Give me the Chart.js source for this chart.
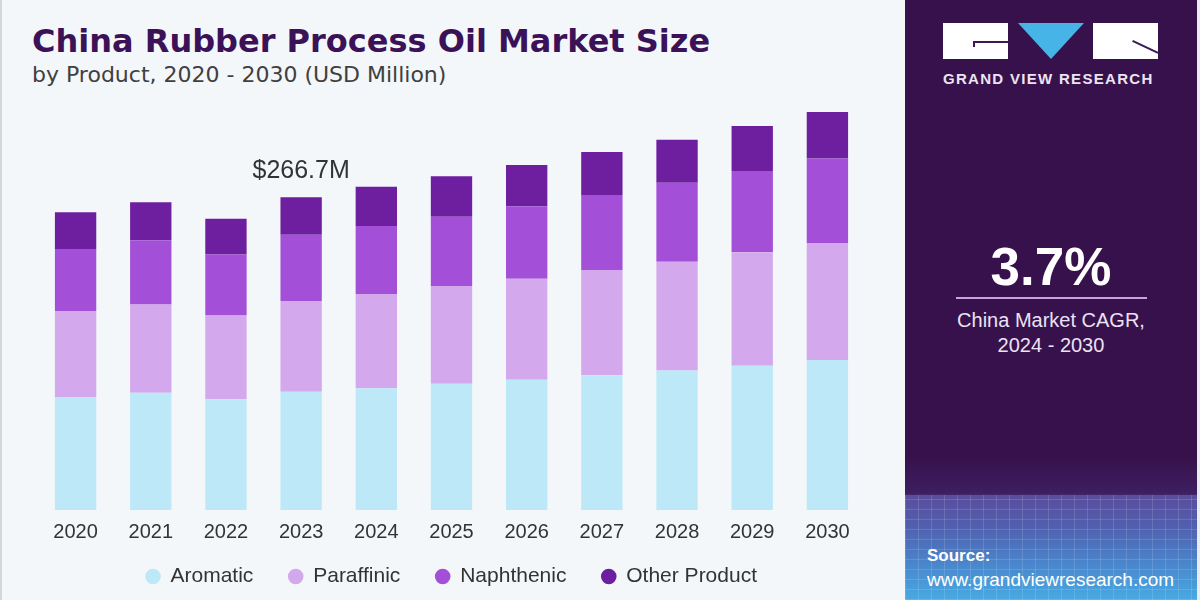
<!DOCTYPE html>
<html>
<head>
<meta charset="utf-8">
<script src="https://cdn.jsdelivr.net/npm/chart.js@4.4.1/dist/chart.umd.min.js"></script>
<style>
	html, body { margin: 0; padding: 0; }
	body {
		width: 1200px;
		height: 600px;
		position: relative;
		overflow: hidden;
		background: #f3f7fa;
		font-family: 'Liberation Sans', Arial, sans-serif;
	}
	.left-edge { position: absolute; left: 0; top: 0; width: 2px; height: 600px; background: #d3d7db; }
	.title {
		position: absolute; left: 32px; top: 22px;
		font: bold 32px 'DejaVu Sans', sans-serif;
		color: #3b1158; white-space: nowrap;
	}
	.subtitle {
		position: absolute; left: 32px; top: 62px;
		font: 22px 'DejaVu Sans', sans-serif;
		color: #404040; white-space: nowrap;
	}
	#chartBox { position: absolute; left: 0; top: 0; width: 905px; height: 600px; }

	.panel {
		position: absolute; left: 905px; top: 0; width: 292px; height: 600px;
		background: linear-gradient(180deg, #37114b 0%, #37114b 76%, #3e1f62 82.4%, #5b4c9c 82.5%, #5061b0 88%, #4a86cc 94%, #47aae2 100%);
	}
	.grid {
		position: absolute; left: 0; top: 495px; width: 292px; height: 105px;
		background:
			repeating-linear-gradient(90deg, rgba(255,255,255,0.13) 0 1px, transparent 1px 13px),
			repeating-linear-gradient(0deg, rgba(255,255,255,0.13) 0 1px, transparent 1px 10px);
	}
	.logo-box { position: absolute; top: 23px; height: 36px; background: #fff; }
	.logo-g { left: 38px; width: 65px; }
	.logo-r { left: 188px; width: 65px; overflow: hidden; }
	.g-line { position: absolute; left: 30px; top: 18px; width: 35px; height: 2px; background: #3a1a55; }
	.g-stem { position: absolute; left: 30px; top: 18px; width: 2px; height: 6px; background: #3a1a55; }
	.r-line { position: absolute; left: 40px; top: 17px; width: 28px; height: 2px; background: #3a1a55; transform: rotate(25deg); transform-origin: 0 0; }
	.logo-v {
		position: absolute; left: 113px; top: 23px; width: 0; height: 0;
		border-left: 33px solid transparent; border-right: 33px solid transparent;
		border-top: 36px solid #47b4e8;
	}
	.brand {
		position: absolute; left: 38px; top: 70px; width: 216px;
		font: bold 15px 'Liberation Sans', Arial, sans-serif;
		letter-spacing: 1.3px; color: #ece4f2; white-space: nowrap;
	}
	.cagr {
		position: absolute; left: 0; width: 292px; top: 236px; text-align: center;
		font: bold 53px 'Liberation Sans', Arial, sans-serif; color: #fff;
	}
	.rule { position: absolute; left: 51px; top: 297px; width: 191px; height: 2px; background: #c6a4df; }
	.cagr-note {
		position: absolute; left: 0; width: 292px; top: 308px; text-align: center;
		font: 20px/25px 'Liberation Sans', Arial, sans-serif; color: #ece2f3;
	}
	.source {
		position: absolute; left: 22px; top: 543px;
		font: 19px/24px 'Liberation Sans', Arial, sans-serif; color: #fff; white-space: nowrap;
	}
	.source b { font-size: 17px; }
	.right-edge { position: absolute; left: 1197px; top: 0; width: 3px; height: 600px; background: #e9edf1; }
</style>
</head>
<body>
<div class="left-edge"></div>
<div class="title">China Rubber Process Oil Market Size</div>
<div class="subtitle">by Product, 2020 - 2030 (USD Million)</div>
<div id="chartBox"><canvas id="chart"></canvas></div>

<div class="panel">
	<div class="grid"></div>
	<div class="logo-box logo-g"><div class="g-line"></div><div class="g-stem"></div></div>
	<div class="logo-v"></div>
	<div class="logo-box logo-r"><div class="r-line"></div></div>
	<div class="brand">GRAND VIEW RESEARCH</div>
	<div class="cagr">3.7%</div>
	<div class="rule"></div>
	<div class="cagr-note">China Market CAGR,<br>2024 - 2030</div>
	<div class="source"><b>Source:</b><br>www.grandviewresearch.com</div>
</div>
<div class="right-edge"></div>

<script>
'use strict'

const years = ['2020', '2021', '2022', '2023', '2024', '2025', '2026', '2027', '2028', '2029', '2030']
const aromatic = [96.4, 100.0, 94.4, 100.9, 103.8, 107.7, 111.1, 114.9, 119.1, 123.1, 127.9]
const paraffinic = [73.3, 75.4, 71.6, 77.4, 80.4, 83.3, 86.1, 89.8, 92.6, 96.7, 99.8]
const naphthenic = [52.9, 54.8, 52.0, 56.5, 58.0, 59.1, 62.0, 64.0, 67.4, 69.3, 72.2]
const otherProduct = [31.3, 32.4, 30.4, 31.9, 33.5, 34.7, 35.2, 36.7, 36.7, 38.4, 39.7]
const seriesNames = ['Aromatic', 'Paraffinic', 'Naphthenic', 'Other Product']
const seriesColors = ['#bde8f8', '#d4a8ec', '#a34fd7', '#6e1f9f']
const labelledYear = '2023'

// total of the stack written above one bar
const totalLabel = {
	id: 'totalLabel',
	afterDatasetsDraw(chart) {
		const idx = years.indexOf(labelledYear)
		const topBar = chart.getDatasetMeta(chart.data.datasets.length - 1).data[idx]
		const total = chart.data.datasets.reduce((sum, ds) => sum + ds.data[idx], 0)
		const ctx = chart.ctx
		ctx.save()
		ctx.font = '25px "Liberation Sans", Arial, sans-serif'
		ctx.fillStyle = '#333333'
		ctx.textAlign = 'center'
		ctx.textBaseline = 'middle'
		ctx.fillText(`$${total.toFixed(1)}M`, topBar.x, topBar.y - 26)
		ctx.restore()
	},
}

const ctx = document.getElementById('chart')

new Chart(ctx, {
	type: 'bar',
	data: {
		labels: years,
		datasets: [aromatic, paraffinic, naphthenic, otherProduct].map((values, i) => ({
			label: seriesNames[i],
			data: values,
			backgroundColor: seriesColors[i],
			borderWidth: 0,
			barPercentage: 0.55,
			categoryPercentage: 1,
		})),
	},
	options: {
		responsive: true,
		maintainAspectRatio: false,
		animation: false,
		layout: { padding: { left: 38, right: 40, top: 88, bottom: 3 } },
		scales: {
			x: {
				stacked: true,
				grid: { display: false, drawTicks: false },
				border: { display: false },
				ticks: {
					padding: 10,
					color: '#333333',
					font: { family: 'Liberation Sans', size: 20 },
				},
			},
			y: {
				stacked: true,
				display: false,
				min: 0,
				max: 360,
			},
		},
		plugins: {
			tooltip: { enabled: false },
			legend: {
				position: 'bottom',
				labels: {
					usePointStyle: true,
					pointStyle: 'circle',
					boxWidth: 14,
					boxHeight: 11,
					padding: 12,
					color: '#333333',
					font: { family: 'Liberation Sans', size: 21 },
					generateLabels(chart) {
						const items = Chart.defaults.plugins.legend.labels.generateLabels(chart)
						// extra room after each label, like the wide gaps of the original
						return items.map((item, i) => {
							if (i < items.length - 1) item.text = item.text + '    '
							return item
						})
					},
				},
			},
		},
	},
	plugins: [totalLabel],
})
</script>
</body>
</html>
